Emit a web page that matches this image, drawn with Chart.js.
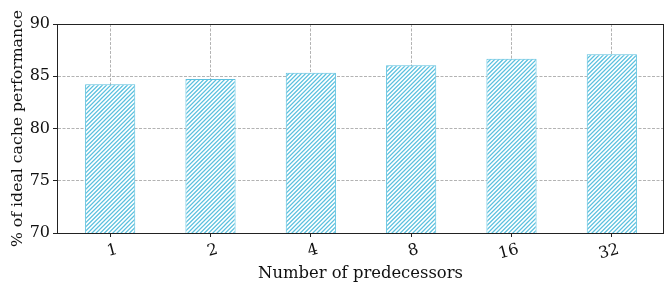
<!DOCTYPE html>
<html>
<head>
<meta charset="utf-8">
<script src="https://cdn.jsdelivr.net/npm/chart.js@4.4.1/dist/chart.umd.min.js"></script>
<style>
  html, body { margin: 0; padding: 0; background: #fff; }
  #wrap { width: 664px; height: 284px; }
</style>
</head>
<body>
<div id="wrap"><canvas id="chart" width="664" height="284"></canvas></div>
<script>
const predecessors = ['1', '2', '4', '8', '16', '32'];
const cachePerf = [84.23, 84.74, 85.34, 86.05, 86.68, 87.1];
const yTicks = [70, 75, 80, 85, 90];

const edgeColor = '#5bc0de';
const fontFamily = '"DejaVu Serif", serif';

// "////" hatch: 6 lines per 25px tile, so about 4.17px between lines
function hatchPattern() {
  const s = 25, n = 6;
  const c = document.createElement('canvas');
  c.width = s; c.height = s;
  const g = c.getContext('2d');
  g.fillStyle = '#ffffff';
  g.fillRect(0, 0, s, s);
  g.strokeStyle = edgeColor;
  g.lineWidth = 1.25;
  g.beginPath();
  for (let k = -1; k <= 2 * n + 1; k++) {
    const c0 = k * s / n;
    g.moveTo(c0 + 1, -1);
    g.lineTo(c0 - s - 1, s + 1);
  }
  g.stroke();
  return ctx.createPattern(c, 'repeat');
}

// box round the plot area, like matplotlib's spines
const frame = {
  id: 'frame',
  afterDraw(chart) {
    const { ctx, chartArea: a } = chart;
    ctx.save();
    ctx.strokeStyle = '#222';
    ctx.lineWidth = 1;
    ctx.strokeRect(Math.round(a.left) + 0.5, Math.round(a.top) + 0.5,
      Math.round(a.right - a.left) - 1, Math.round(a.bottom - a.top));
    ctx.restore();
  }
};

const ctx = document.getElementById('chart').getContext('2d');
new Chart(ctx, {
  type: 'bar',
  data: {
    datasets: [{
      data: cachePerf.map((v, i) => ({ x: i, y: v })),
      backgroundColor: hatchPattern(),
      borderColor: edgeColor,
      borderWidth: 1,
      barPercentage: 0.5,
      categoryPercentage: 1
    }]
  },
  options: {
    responsive: false,
    animation: false,
    events: [],
    layout: { padding: { top: 24, right: 0, left: 0, bottom: 0 } },
    plugins: { legend: { display: false }, tooltip: { enabled: false } },
    scales: {
      x: {
        type: 'linear',
        offset: false,
        z: 1,
        min: -0.53,
        max: 5.52,
        afterBuildTicks: (scale) => { scale.ticks = predecessors.map((_, i) => ({ value: i })); },
        afterFit: (scale) => { scale.height = 51; },
        ticks: {
          callback: (v) => predecessors[v] ?? '',
          minRotation: 15,
          maxRotation: 15,
          labelOffset: 7,
          padding: 3,
          color: '#111',
          font: { family: fontFamily, size: 16 }
        },
        grid: { offset: false, color: '#b3b3b3', tickColor: '#222', tickLength: 4, lineWidth: 1 },
        border: { display: true, color: '#222', dash: [3, 1.5] },
        title: {
          display: true,
          text: 'Number of predecessors',
          color: '#111',
          font: { family: fontFamily, size: 16.4 },
          padding: { top: 0, bottom: 0 }
        }
      },
      y: {
        min: 70,
        max: 90,
        z: 1,
        afterBuildTicks: (scale) => { scale.ticks = yTicks.map(v => ({ value: v })); },
        afterFit: (scale) => { scale.width = 57; },
        ticks: {
          padding: 3,
          color: '#111',
          font: { family: fontFamily, size: 16 }
        },
        grid: { color: '#b3b3b3', tickColor: '#222', tickLength: 4, lineWidth: 1 },
        border: { display: true, color: '#222', dash: [3, 1.5] },
        title: {
          display: true,
          text: '% of ideal cache performance',
          color: '#111',
          font: { family: fontFamily, size: 15.7 },
          padding: { top: 9, bottom: 0 }
        }
      }
    }
  },
  plugins: [frame]
});
</script>
</body>
</html>
